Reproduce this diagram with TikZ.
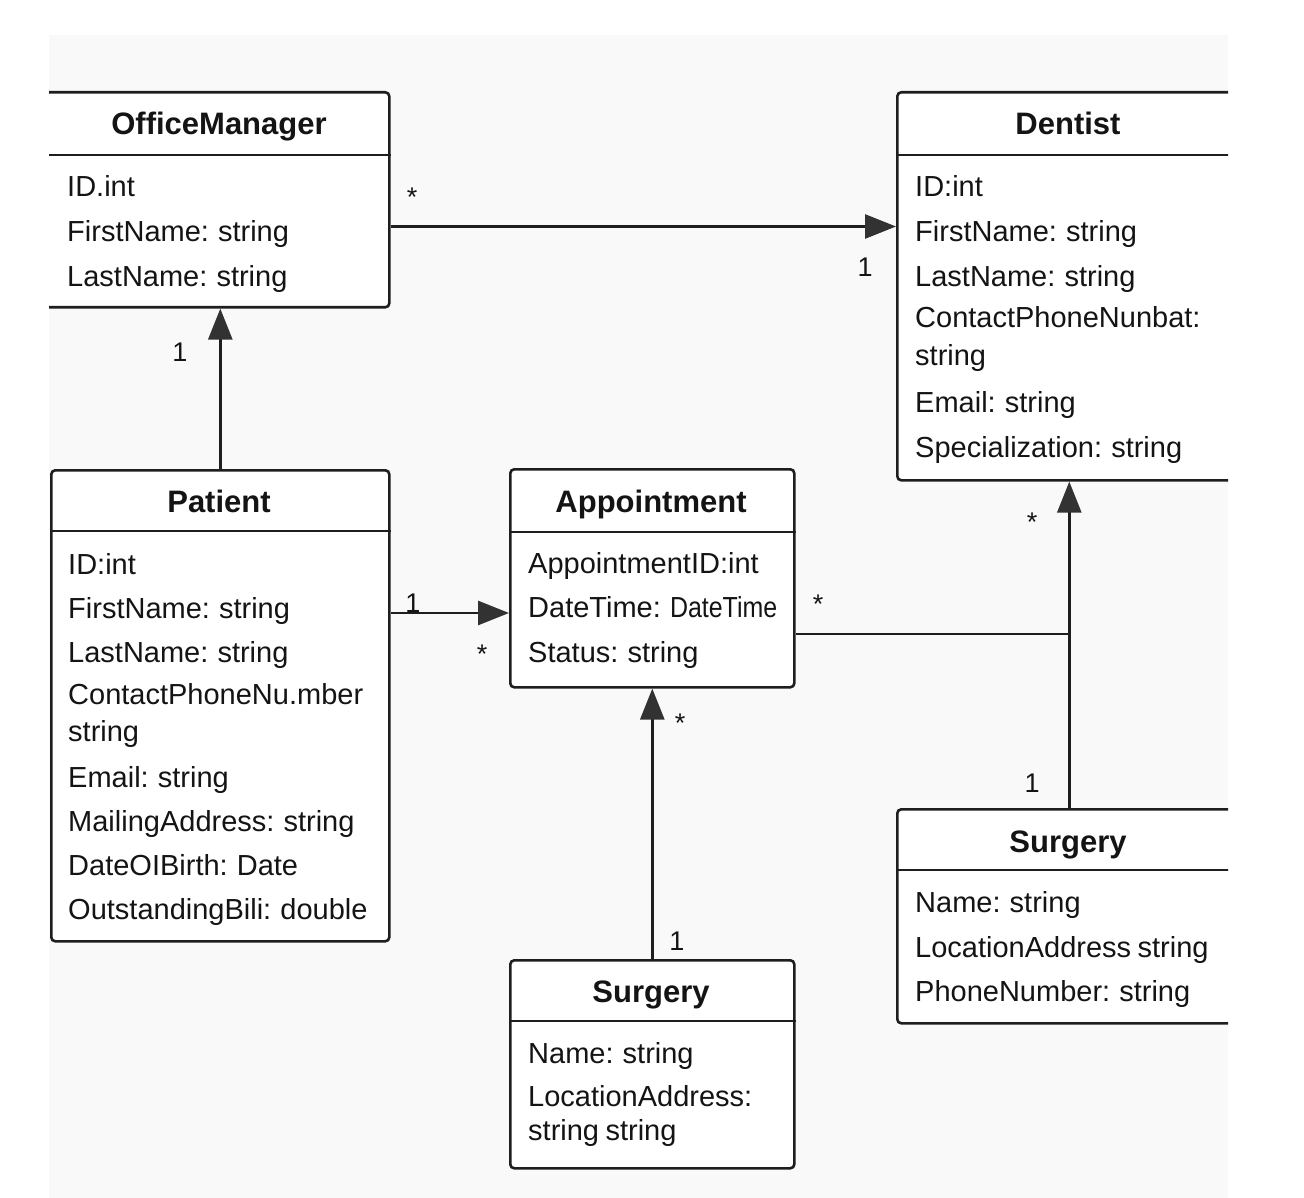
\documentclass[tikz,border=0pt]{standalone}
\usepackage{fontspec}
\setmainfont{Liberation Sans}[WordSpace=0.8]
\usetikzlibrary{arrows.meta}
\definecolor{bgc}{RGB}{249,249,249}
\definecolor{linec}{RGB}{30,30,30}
\definecolor{arrc}{RGB}{50,50,50}
\definecolor{txtc}{RGB}{20,20,20}
\begin{document}
\begin{tikzpicture}[x=1pt,y=-1pt,
  box/.style={draw=linec, line width=2.6pt, rounded corners=4pt, fill=white, inner sep=0pt, anchor=north west},
  ttl/.style={font=\fontsize{31}{36}\selectfont\bfseries, anchor=base, inner sep=0pt, text=txtc},
  attr/.style={font=\fontsize{29}{34}\selectfont, anchor=base west, inner sep=0pt, text=txtc},
  lbl/.style={font=\fontsize{27}{32}\selectfont, anchor=base, inner sep=0pt, text=txtc},
  conn/.style={draw=linec, line width=2.6pt},
  arr/.style={conn, -{Triangle[length=31pt,width=24pt,color=arrc]}},
  sep/.style={draw=linec, line width=2.4pt}]
\useasboundingbox (0,0) rectangle (1304,1198);
\fill[white] (0,0) rectangle (1304,1198);
\fill[bgc] (49,35) rectangle (1228,1198);
\begin{scope}
\clip (49,35) rectangle (1228,1198);
% OfficeManager
\node[box, minimum width=344pt, minimum height=215pt] (om) at (44,91) {};
\draw[sep] (om.west |- 0,155) -- (om.east |- 0,155);
\node[ttl] (omt) at (219,135) {OfficeManager};
\node[attr] (om1) at (67,197) {ID.int};
\node[attr] (om2) at (67,242) {FirstName: string};
\node[attr] (om3) at (67,287) {LastName: string};
% Dentist
\node[box, minimum width=344pt, minimum height=388pt] (dn) at (896,91) {};
\draw[sep] (dn.west |- 0,155) -- (dn.east |- 0,155);
\node[ttl] (dnt) at (1068,135) {Dentist};
\node[attr] (dn1) at (915,197) {ID:int};
\node[attr] (dn2) at (915,242) {FirstName: string};
\node[attr] (dn3) at (915,287) {LastName: string};
\node[attr] (dn4) at (915,328) {ContactPhoneNunbat:};
\node[attr] (dn5) at (915,366) {string};
\node[attr] (dn6) at (915,412) {Email: string};
\node[attr] (dn7) at (915,457) {Specialization: string};
% Patient
\node[box, minimum width=338pt, minimum height=471pt] (pa) at (50,469) {};
\draw[sep] (pa.west |- 0,531) -- (pa.east |- 0,531);
\node[ttl] (pat) at (219,512) {Patient};
\node[attr] (pa1) at (68,574) {ID:int};
\node[attr] (pa2) at (68,618) {FirstName: string};
\node[attr] (pa3) at (68,662) {LastName: string};
\node[attr] (pa4) at (68,704) {ContactPhoneNu.mber};
\node[attr] (pa5) at (68,741) {string};
\node[attr] (pa6) at (68,787) {Email: string};
\node[attr] (pa7) at (68,831) {MailingAddress: string};
\node[attr] (pa8) at (68,875) {DateOIBirth: Date};
\node[attr] (pa9) at (68,919) {OutstandingBili: double};
% Appointment
\node[box, minimum width=284pt, minimum height=218pt] (ap) at (509,468) {};
\draw[sep] (ap.west |- 0,532) -- (ap.east |- 0,532);
\node[ttl] (apt) at (651,512) {Appointment};
\node[attr] (ap1) at (528,573) {AppointmentID:int};
\node[attr] (ap2) at (528,617) {DateTime: \scalebox{0.86}[1]{DateTime}};
\node[attr] (ap3) at (528,662) {Status: string};
% Surgery (bottom)
\node[box, minimum width=284pt, minimum height=208pt] (sb) at (509,959) {};
\draw[sep] (sb.west |- 0,1021) -- (sb.east |- 0,1021);
\node[ttl] (sbt) at (651,1002) {Surgery};
\node[attr] (sb1) at (528,1063) {Name: string};
\node[attr] (sb2) at (528,1106) {LocationAddress:};
\node[attr] (sb3) at (528,1140) {string string};
% Surgery (right)
\node[box, minimum width=344pt, minimum height=214pt] (sr) at (896,808) {};
\draw[sep] (sr.west |- 0,870) -- (sr.east |- 0,870);
\node[ttl] (srt) at (1068,852) {Surgery};
\node[attr] (sr1) at (915,912) {Name: string};
\node[attr] (sr2) at (915,957) {LocationAddress string};
\node[attr] (sr3) at (915,1001) {PhoneNumber: string};
% connectors
\draw[arr] (om.east |- 0,226.5) -- (dn.west |- 0,226.5);
\draw[arr] (pa.north) -- (pa.north |- om.south);
\draw[arr] (pa.east |- 0,613) -- (ap.west |- 0,613);
\draw[arr] (sb.north) -- (ap.south);
\coordinate (jn) at (sr.north |- 0,634);
\draw[conn] (ap.east |- jn) -- ([xshift=1.3pt]jn);
\draw[arr] (sr.north) -- (dn.south);
% multiplicities
\node[lbl] (m1) at (412,207) {*};
\node[lbl] (m2) at (865,277) {1};
\node[lbl] (m3) at (180,361) {1};
\node[lbl] (m4) at (413,612) {1};
\node[lbl] (m5) at (482,663) {*};
\node[lbl] (m6) at (680,732) {*};
\node[lbl] (m7) at (677,950) {1};
\node[lbl] (m8) at (818,613) {*};
\node[lbl] (m9) at (1032,531) {*};
\node[lbl] (m10) at (1032,792) {1};
\end{scope}
\end{tikzpicture}
\end{document}
